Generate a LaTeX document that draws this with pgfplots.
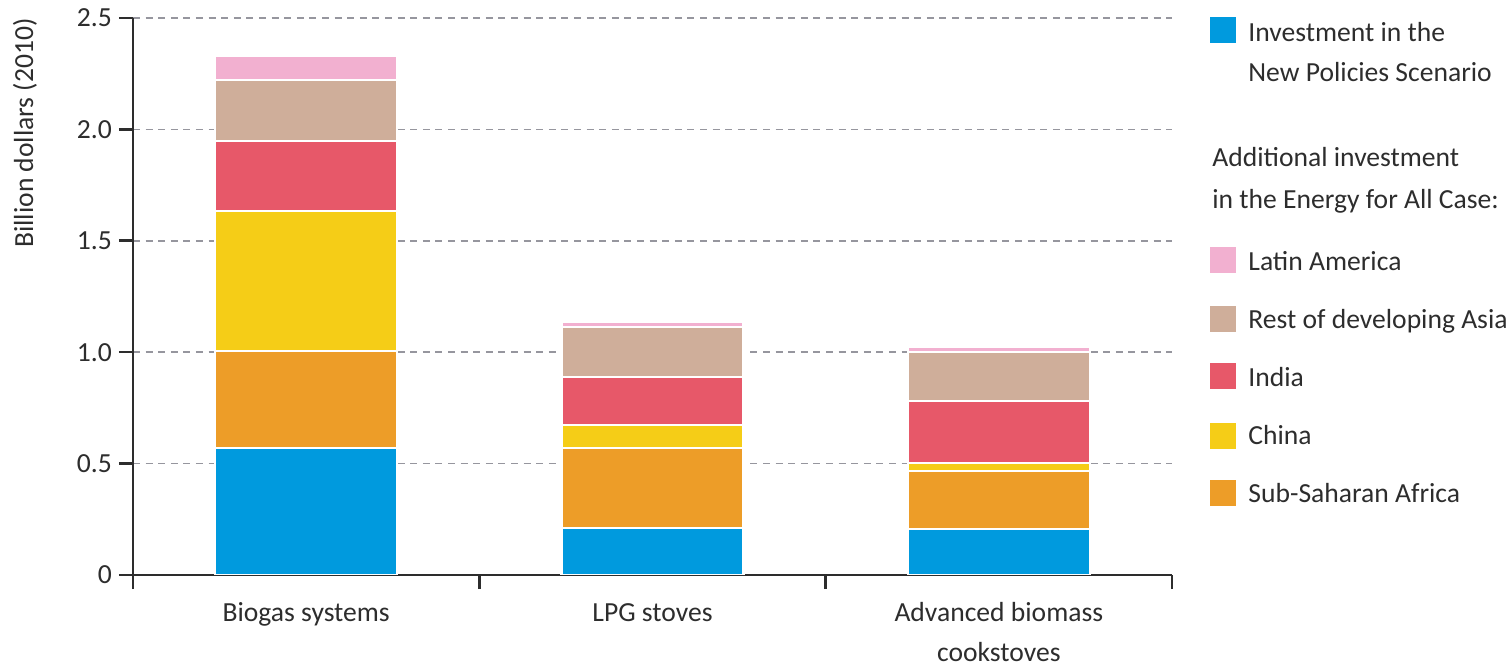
\documentclass[border=0pt]{standalone}
\usepackage{fontspec}
\setmainfont{Carlito}
\usepackage{pgfplots}
\usepackage{pgfplotstable}
\pgfplotsset{compat=1.18}

\definecolor{cblue}{RGB}{0,154,222}
\definecolor{corange}{RGB}{237,157,40}
\definecolor{cyellow}{RGB}{245,205,23}
\definecolor{cred}{RGB}{231,88,105}
\definecolor{ctan}{RGB}{207,174,154}
\definecolor{cpink}{RGB}{242,176,208}
\definecolor{ctext}{RGB}{45,45,45}
\definecolor{cgrid}{RGB}{150,150,158}

\pgfplotstableread{
x nps ssa china india rest latam
0 0.570 0.435 0.630 0.314 0.274 0.108
1 0.211 0.359 0.103 0.216 0.224 0.023
2 0.206 0.261 0.036 0.278 0.220 0.022
}\datatable

\newcommand{\lfont}{\fontsize{13.8}{20}\selectfont}

\begin{document}
\begin{tikzpicture}
\useasboundingbox (-66.5pt,-46.5pt) rectangle (688.5pt,287.5pt);
\begin{axis}[
  at={(0pt,0pt)}, anchor=south west,
  scale only axis, width=519.5pt, height=278.5pt,
  xmin=-0.5, xmax=2.5, ymin=0, ymax=2.5,
  ybar stacked, bar width=91pt,
  axis lines*=left,
  axis line style={draw=ctext, line width=1.3pt},
  tick style={draw=ctext, line width=1.3pt},
  tick align=outside,
  major tick length=7pt,
  ytick={0,0.5,1,1.5,2,2.5},
  yticklabels={0,0.5,1.0,1.5,2.0,2.5},
  ymajorgrids,
  grid style={cgrid, dash pattern=on 3.5pt off 2.8pt, line width=0.85pt},
  xtick={-0.5,0.5,1.5,2.5},
  xticklabels={},
  extra x ticks={0,1,2},
  extra x tick labels={\strut Biogas systems, \strut LPG stoves, {\strut Advanced biomass\\cookstoves}},
  extra x tick style={major tick length=0pt, xticklabel style={align=center, yshift=-5.5pt}},
  ticklabel style={font=\lfont, text=ctext},
  /pgf/number format/assume math mode=true,
  every axis plot/.append style={draw=white, line width=1.1pt},
]
\addplot[fill=cblue, draw=white] table[x=x, y=nps] {\datatable};
\addplot[fill=corange, draw=white] table[x=x, y=ssa] {\datatable};
\addplot[fill=cyellow, draw=white] table[x=x, y=china] {\datatable};
\addplot[fill=cred, draw=white] table[x=x, y=india] {\datatable};
\addplot[fill=ctan, draw=white] table[x=x, y=rest] {\datatable};
\addplot[fill=cpink, draw=white] table[x=x, y=latam] {\datatable};
\end{axis}

% y label
\node[rotate=90, font=\lfont, text=ctext] at (-54pt,221pt) {Billion dollars (2010)};

% legend
\begin{scope}[every node/.style={font=\lfont, text=ctext, inner sep=0pt, anchor=base west}]
\fill[cblue] (538.5pt,266pt) rectangle (551.5pt,279pt);
\node at (557.5pt,266.5pt) {Investment in the};
\node at (557.5pt,246.5pt) {New Policies Scenario};
\node at (539.5pt,204pt) {Additional investment};
\node at (539.5pt,183pt) {in the Energy for All Case:};
\fill[cpink] (538.5pt,151pt) rectangle (551.5pt,164pt);
\node at (557.5pt,152pt) {Latin America};
\fill[ctan] (538.5pt,121.5pt) rectangle (551.5pt,134.5pt);
\node at (557.5pt,123pt) {Rest of developing Asia};
\fill[cred] (538.5pt,93pt) rectangle (551.5pt,106pt);
\node at (557.5pt,94pt) {India};
\fill[cyellow] (538.5pt,63pt) rectangle (551.5pt,76pt);
\node at (557.5pt,65pt) {China};
\fill[corange] (538.5pt,34.5pt) rectangle (551.5pt,47.5pt);
\node at (557.5pt,36pt) {Sub-Saharan Africa};
\end{scope}
\end{tikzpicture}
\end{document}
